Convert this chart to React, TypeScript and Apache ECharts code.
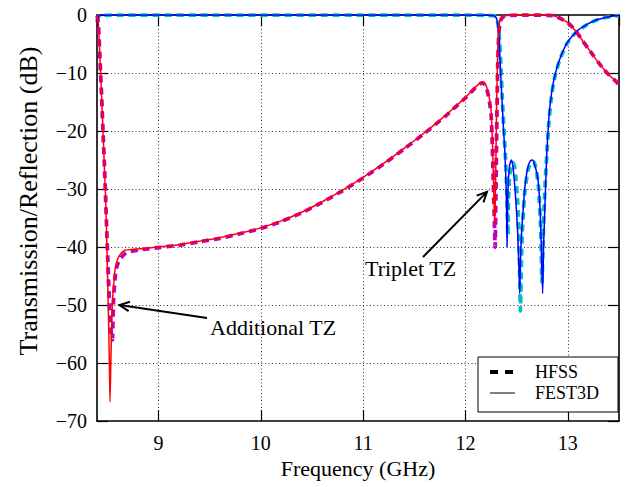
import React, { useEffect, useRef } from "react";
import * as echarts from "echarts";

// ---- Data (frequency GHz, level dB) ----
const s11Fest3d: [number, number][] = [
  [8.4, -0.1], [8.405, -0.4], [8.415, -2], [8.43, -8], [8.445, -14], [8.462, -21.5],
  [8.475, -27.5], [8.485, -32], [8.495, -38.5], [8.504, -45.7], [8.512, -52], [8.52, -59],
  [8.527, -66.7], [8.535, -60], [8.543, -54], [8.55, -50], [8.566, -45.7], [8.58, -43.5],
  [8.6, -42.2], [8.63, -41.2], [8.67, -40.6], [8.75, -40.4], [8.9, -40.2], [9.0, -40.0],
  [9.2, -39.6], [9.4, -39.0], [9.6, -38.4], [9.8, -37.6], [10.0, -36.7], [10.2, -35.5],
  [10.4, -34.0], [10.6, -32.2], [10.8, -30.2], [11.0, -28.0], [11.2, -25.6], [11.4, -23.0],
  [11.6, -20.3], [11.8, -17.4], [11.9, -15.8], [12.0, -14.2], [12.05, -13.3], [12.1, -12.4],
  [12.14, -11.8], [12.17, -11.5], [12.2, -12.1], [12.22, -13.2], [12.24, -15.0], [12.25, -16.5],
  [12.26, -20], [12.27, -26], [12.28, -33], [12.287, -36], [12.295, -28], [12.305, -15],
  [12.315, -6], [12.325, -2.5], [12.34, -0.8], [12.37, -0.2], [12.45, -0.05], [12.6, -0.02],
  [12.8, -0.05], [12.85, -0.1], [12.87, -0.2], [12.9, -0.4], [12.95, -0.8], [13.0, -1.3],
  [13.05, -2.2], [13.1, -3.3], [13.15, -4.6], [13.2, -5.8], [13.25, -7.0], [13.3, -8.2],
  [13.35, -9.3], [13.4, -10.3], [13.45, -11.1], [13.5, -11.9],
];

const s11Hfss: [number, number][] = [
  [8.4, -0.1], [8.405, -0.4], [8.415, -2], [8.43, -8], [8.445, -14], [8.462, -21.5],
  [8.475, -27], [8.485, -32], [8.495, -37], [8.505, -42], [8.515, -47], [8.528, -52],
  [8.54, -55], [8.55, -56], [8.556, -52.5], [8.562, -49], [8.578, -45], [8.594, -43.4],
  [8.62, -42.2], [8.685, -41], [8.81, -40.5], [8.9, -40.3], [9.0, -40.1], [9.2, -39.7],
  [9.4, -39.1], [9.6, -38.5], [9.8, -37.7], [10.0, -36.8], [10.2, -35.6], [10.4, -34.1],
  [10.6, -32.3], [10.8, -30.3], [11.0, -28.1], [11.2, -25.7], [11.4, -23.1], [11.6, -20.4],
  [11.8, -17.5], [11.9, -15.9], [12.0, -14.3], [12.05, -13.4], [12.1, -12.5], [12.14, -11.9],
  [12.17, -11.7], [12.2, -12.4], [12.22, -13.6], [12.24, -15.6], [12.25, -17.2], [12.26, -21],
  [12.27, -27.5], [12.28, -34], [12.29, -40], [12.297, -31], [12.305, -20], [12.315, -9],
  [12.325, -3.5], [12.34, -1.1], [12.37, -0.3], [12.45, -0.05], [12.6, -0.02], [12.8, -0.05],
  [12.85, -0.1], [12.87, -0.2], [12.9, -0.4], [12.95, -0.8], [13.0, -1.3], [13.05, -2.2],
  [13.1, -3.3], [13.15, -4.6], [13.2, -5.8], [13.25, -7.0], [13.3, -8.2], [13.35, -9.3],
  [13.4, -10.3], [13.45, -11.1], [13.5, -12.0],
];

const s21Fest3d: [number, number][] = [
  [8.4, -1.2], [8.41, -0.4], [8.43, -0.1], [8.6, -0.02], [9.5, -0.02], [11.0, -0.02], [12.0, -0.02],
  [12.2, -0.05], [12.26, -0.1], [12.28, -0.15], [12.295, -0.35], [12.308, -0.9], [12.325, -3.1],
  [12.341, -8.9], [12.357, -14.7], [12.374, -20.4], [12.386, -24], [12.396, -29], [12.402, -34],
  [12.406, -40], [12.41, -34.5], [12.418, -29], [12.432, -25.8], [12.449, -25], [12.465, -26.3],
  [12.49, -31.5], [12.51, -37.5], [12.522, -43.5], [12.53, -48], [12.538, -42], [12.55, -37],
  [12.57, -32], [12.585, -29], [12.61, -26.2], [12.635, -25.1], [12.653, -25], [12.675, -25.8],
  [12.7, -27.5], [12.715, -29.5], [12.73, -34], [12.741, -40], [12.754, -48], [12.763, -40],
  [12.773, -34.5], [12.785, -28.5], [12.796, -23.3], [12.81, -19], [12.83, -15], [12.86, -11.5],
  [12.89, -9.3], [12.93, -7.2], [12.99, -4.9], [13.05, -3.5], [13.1, -2.6], [13.2, -1.5],
  [13.27, -0.9], [13.35, -0.5], [13.42, -0.25], [13.5, -0.1],
];

const s21Hfss: [number, number][] = [
  [8.4, -1.2], [8.41, -0.4], [8.43, -0.1], [8.6, -0.02], [9.5, -0.02], [11.0, -0.02], [12.0, -0.02],
  [12.2, -0.05], [12.27, -0.1], [12.29, -0.2], [12.3, -0.4], [12.315, -1.2], [12.33, -3.5],
  [12.345, -8.5], [12.36, -14.5], [12.378, -20.5], [12.392, -25], [12.403, -30], [12.41, -35],
  [12.414, -38], [12.42, -32], [12.43, -28], [12.45, -25.8], [12.47, -25.5], [12.49, -27.8],
  [12.51, -32.5], [12.525, -40], [12.537, -51], [12.547, -42], [12.56, -35.5], [12.58, -30.5],
  [12.61, -26.8], [12.64, -25.4], [12.665, -25.3], [12.69, -26.5], [12.715, -30], [12.735, -37],
  [12.748, -46], [12.758, -39], [12.77, -32.5], [12.785, -27], [12.8, -22.5], [12.815, -18.5],
  [12.835, -14.8], [12.86, -11.8], [12.89, -9.5], [12.93, -7.3], [12.99, -5.0], [13.05, -3.6],
  [13.1, -2.7], [13.2, -1.55], [13.27, -0.95], [13.35, -0.5], [13.42, -0.25], [13.5, -0.1],
];

const xTickLabels = [9, 10, 11, 12, 13];
const xRange = [8.4, 13.5];
const yRange = [-70, 0];
const xTitle = "Frequency (GHz)";
const yTitle = "Transmission/Reflection (dB)";
const legendNames = ["HFSS", "FEST3D"];
const annotations = [
  { text: "Additional TZ", tip: [8.62, -50] },
  { text: "Triplet TZ", tip: [12.21, -30.5] },
];

const FONT = "Liberation Serif";

export default function App() {
  const ref = useRef<HTMLDivElement>(null);

  useEffect(() => {
    if (!ref.current) return;
    const chart = echarts.init(ref.current, undefined, { renderer: "svg" });

    const minus = (v: number) => (v < 0 ? "\u2212" + Math.abs(v) : String(v));
    const tickCommon = { show: true, inside: true, length: 11, lineStyle: { color: "#000", width: 1.2 } };
    const axisLine = { show: true, onZero: false, lineStyle: { color: "#000", width: 1.6 } };
    const splitLine = {
      show: true,
      showMinLine: false,
      showMaxLine: false,
      lineStyle: { color: "#333", type: [1, 2.5] as any, width: 1 },
    };

    const hfssStyle = (color: string) => ({
      type: "line",
      showSymbol: false,
      symbol: "none",
      smooth: 0.2,
      lineStyle: { color, width: 3.8, type: [7, 5] as any },
      z: 2,
    });
    const festStyle = (color: string) => ({
      type: "line",
      showSymbol: false,
      symbol: "none",
      smooth: 0.2,
      lineStyle: { color, width: 1.5, type: "solid" },
      z: 3,
    });

    const option: any = {
      animation: false,
      backgroundColor: "#fff",
      textStyle: { fontFamily: FONT },
      grid: { left: 97, right: 12, top: 15, bottom: 66, containLabel: false },
      xAxis: [
        {
          type: "value",
          min: xRange[0],
          max: xRange[1],
          position: "bottom",
          axisLine,
          axisTick: tickCommon,
          splitLine,
          axisLabel: {
            show: true,
            margin: 12,
            color: "#000",
            fontSize: 20,
            fontFamily: FONT,
            showMinLabel: false,
            showMaxLabel: false,
            formatter: (v: number) => (xTickLabels.includes(v) ? String(v) : ""),
          },
          name: xTitle,
          nameLocation: "middle",
          nameGap: 36,
          nameTextStyle: { color: "#000", fontSize: 22, fontFamily: FONT },
        },
        {
          type: "value",
          min: xRange[0],
          max: xRange[1],
          position: "top",
          axisLine,
          axisTick: tickCommon,
          splitLine: { show: false },
          axisLabel: { show: false },
        },
      ],
      yAxis: [
        {
          type: "value",
          min: yRange[0],
          max: yRange[1],
          interval: 10,
          position: "left",
          axisLine,
          axisTick: tickCommon,
          splitLine,
          axisLabel: {
            show: true,
            margin: 10,
            color: "#000",
            fontSize: 20,
            fontFamily: FONT,
            formatter: minus,
          },
        },
        {
          type: "value",
          min: yRange[0],
          max: yRange[1],
          interval: 10,
          position: "right",
          axisLine,
          axisTick: tickCommon,
          splitLine: { show: false },
          axisLabel: { show: false },
        },
      ],
      series: [
        { name: "HFSS S21", data: s21Hfss, ...hfssStyle("#00bfbf") },
        { name: "HFSS S11", data: s11Hfss, ...hfssStyle("#bf00bf") },
        { name: "FEST3D S21", data: s21Fest3d, ...festStyle("#0000ff") },
        { name: "FEST3D S11", data: s11Fest3d, ...festStyle("#ff0000") },
      ],
    };
    chart.setOption(option);

    const graphics: any[] = [];

    // y-axis title
    graphics.push({
      type: "text",
      x: 28,
      y: 201,
      rotation: Math.PI / 2,
      style: {
        text: yTitle,
        fill: "#000",
        fontSize: 26,
        fontFamily: FONT,
        align: "center",
        verticalAlign: "middle",
      },
      z: 10,
    });

    // annotations
    const tails = [
      [207, 318],
      [423, 257],
    ];
    const textPos = [
      [210, 327],
      [365, 268],
    ];
    annotations.forEach((a, i) => {
      const tip = chart.convertToPixel({ gridIndex: 0 } as any, a.tip) as number[];
      const tail = tails[i];
      const ang = Math.atan2(tail[1] - tip[1], tail[0] - tip[0]);
      const L = 11;
      const da = 0.45;
      graphics.push({
        type: "line",
        shape: { x1: tail[0], y1: tail[1], x2: tip[0], y2: tip[1] },
        style: { stroke: "#000", lineWidth: 2 },
        z: 10,
      });
      graphics.push({
        type: "polyline",
        shape: {
          points: [
            [tip[0] + L * Math.cos(ang + da), tip[1] + L * Math.sin(ang + da)],
            [tip[0], tip[1]],
            [tip[0] + L * Math.cos(ang - da), tip[1] + L * Math.sin(ang - da)],
          ],
        },
        style: { stroke: "#000", lineWidth: 2, fill: "none" },
        z: 10,
      });
      graphics.push({
        type: "text",
        x: textPos[i][0],
        y: textPos[i][1],
        style: {
          text: a.text,
          fill: "#000",
          fontSize: 22,
          fontFamily: FONT,
          align: "left",
          verticalAlign: "middle",
        },
        z: 10,
      });
    });

    // legend box
    const lx = 478, ly = 357, lw = 140, lh = 55;
    graphics.push({
      type: "rect",
      shape: { x: lx, y: ly, width: lw, height: lh },
      style: { fill: "#fff", stroke: "#000", lineWidth: 1 },
      z: 20,
    });
    graphics.push({
      type: "line",
      shape: { x1: 490, y1: 372, x2: 513, y2: 372 },
      style: { stroke: "#000", lineWidth: 3.8, lineDash: [8, 7] },
      z: 21,
    });
    graphics.push({
      type: "line",
      shape: { x1: 490, y1: 393, x2: 515, y2: 393 },
      style: { stroke: "#000", lineWidth: 1 },
      z: 21,
    });
    legendNames.forEach((n, i) => {
      graphics.push({
        type: "text",
        x: 535,
        y: 372 + i * 21,
        style: {
          text: n,
          fill: "#000",
          fontSize: 18,
          fontFamily: FONT,
          align: "left",
          verticalAlign: "middle",
        },
        z: 21,
      });
    });

    chart.setOption({ graphic: graphics });

    return () => chart.dispose();
  }, []);

  return (
    <div
      ref={ref}
      style={{ position: "fixed", left: 0, top: 0, width: 631, height: 487, background: "#fff" }}
    />
  );
}
